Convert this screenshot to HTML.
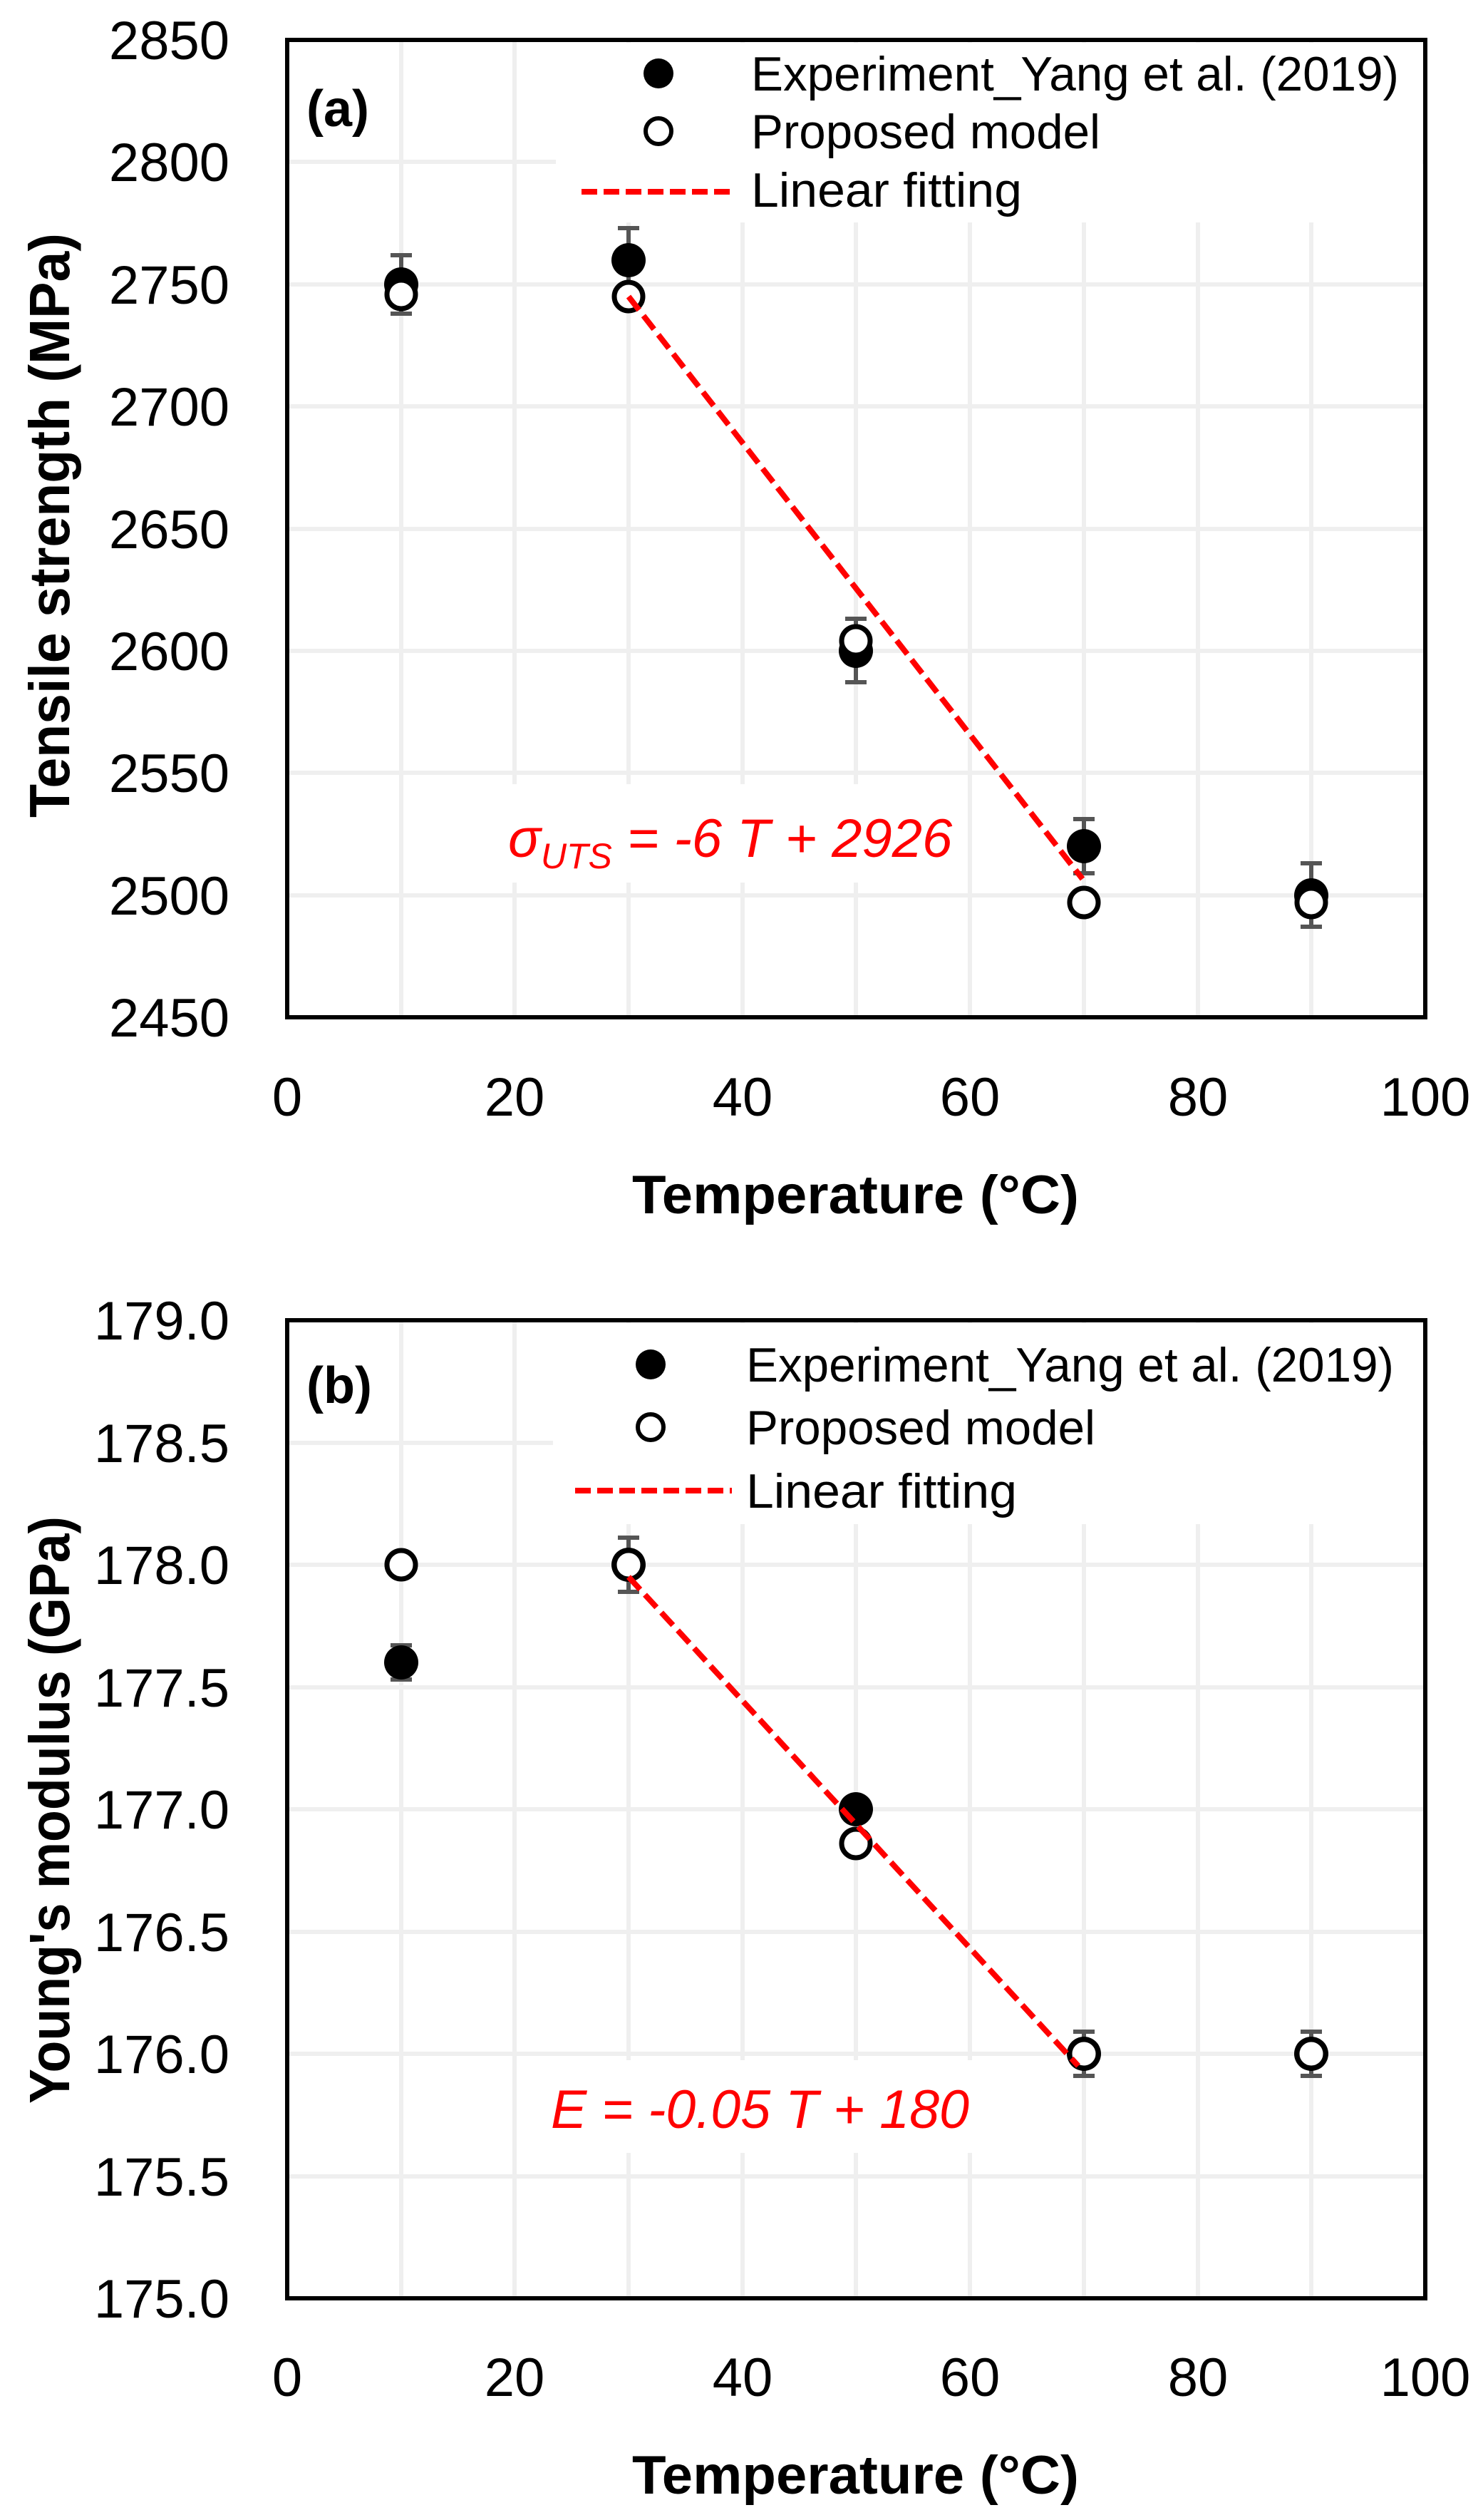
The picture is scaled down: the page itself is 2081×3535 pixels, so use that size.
<!DOCTYPE html>
<html><head><meta charset="utf-8"><style>html,body{margin:0;padding:0;background:#fff}svg{display:block}</style></head>
<body>
<svg xmlns="http://www.w3.org/2000/svg" width="2081" height="3535" viewBox="0 0 2081 3535" font-family="'Liberation Sans', sans-serif">
<rect width="2081" height="3535" fill="#fff"/>
<!-- ===== PANEL A ===== -->
<g>
<g stroke="#efefef" stroke-width="6">
<line x1="722" y1="56" x2="722" y2="1427"/><line x1="1042" y1="56" x2="1042" y2="1427"/><line x1="1361" y1="56" x2="1361" y2="1427"/><line x1="1681" y1="56" x2="1681" y2="1427"/>
<line x1="563" y1="56" x2="563" y2="1427"/><line x1="882" y1="56" x2="882" y2="1427"/><line x1="1201" y1="56" x2="1201" y2="1427"/><line x1="1521" y1="56" x2="1521" y2="1427"/><line x1="1840" y1="56" x2="1840" y2="1427"/>
<line x1="403" y1="227" x2="2000" y2="227"/><line x1="403" y1="399" x2="2000" y2="399"/><line x1="403" y1="570" x2="2000" y2="570"/><line x1="403" y1="742" x2="2000" y2="742"/><line x1="403" y1="913" x2="2000" y2="913"/><line x1="403" y1="1084" x2="2000" y2="1084"/><line x1="403" y1="1256" x2="2000" y2="1256"/>
</g>
<rect x="780" y="60" width="1216" height="252" fill="#fff"/>
<rect x="690" y="1100" width="655" height="138" fill="#fff"/>
<rect x="403" y="56" width="1597" height="1371" fill="none" stroke="#000" stroke-width="6"/>
<g font-size="76" text-anchor="end" fill="#000">
<text x="322" y="83">2850</text><text x="322" y="254">2800</text><text x="322" y="426">2750</text><text x="322" y="597">2700</text><text x="322" y="769">2650</text><text x="322" y="940">2600</text><text x="322" y="1111">2550</text><text x="322" y="1283">2500</text><text x="322" y="1454">2450</text>
</g>
<g font-size="76" text-anchor="middle" fill="#000">
<text x="403" y="1565">0</text><text x="722" y="1565">20</text><text x="1042" y="1565">40</text><text x="1361" y="1565">60</text><text x="1681" y="1565">80</text><text x="2000" y="1565">100</text>
</g>
<text x="887" y="1702" font-size="76" font-weight="bold" textLength="627" lengthAdjust="spacingAndGlyphs">Temperature (°C)</text>
<text transform="translate(97,1147) rotate(-90)" font-size="80" font-weight="bold" textLength="820" lengthAdjust="spacingAndGlyphs">Tensile strength (MPa)</text>
<text x="430" y="177" font-size="72" font-weight="bold">(a)</text>
<!-- legend -->
<circle cx="924" cy="103" r="21" fill="#000"/>
<circle cx="924" cy="184" r="18" fill="#fff" stroke="#000" stroke-width="6"/>
<line x1="816" y1="269" x2="1033" y2="269" stroke="#f00" stroke-width="8" stroke-dasharray="22 9"/>
<g font-size="68" fill="#000">
<text x="1054" y="127" textLength="909" lengthAdjust="spacingAndGlyphs">Experiment_Yang et al. (2019)</text>
<text x="1054" y="208" textLength="490" lengthAdjust="spacingAndGlyphs">Proposed model</text>
<text x="1054" y="290" textLength="380" lengthAdjust="spacingAndGlyphs">Linear fitting</text>
</g>
<!-- error bars -->
<g stroke="#555" stroke-width="6">
<line x1="563" y1="440" x2="563" y2="358"/><line x1="548" y1="440" x2="578" y2="440"/><line x1="548" y1="358" x2="578" y2="358"/>
<line x1="882" y1="406" x2="882" y2="320"/><line x1="867" y1="406" x2="897" y2="406"/><line x1="867" y1="320" x2="897" y2="320"/>
<line x1="1201" y1="957" x2="1201" y2="868"/><line x1="1186" y1="957" x2="1216" y2="957"/><line x1="1186" y1="868" x2="1216" y2="868"/>
<line x1="1521" y1="1225" x2="1521" y2="1149"/><line x1="1506" y1="1225" x2="1536" y2="1225"/><line x1="1506" y1="1149" x2="1536" y2="1149"/>
<line x1="1840" y1="1300" x2="1840" y2="1211"/><line x1="1825" y1="1300" x2="1855" y2="1300"/><line x1="1825" y1="1211" x2="1855" y2="1211"/>
</g>
<g fill="#000">
<circle cx="563" cy="399" r="24"/><circle cx="882" cy="365" r="24"/><circle cx="1201" cy="913" r="24"/><circle cx="1521" cy="1187" r="24"/><circle cx="1840" cy="1256" r="24"/>
</g>
<g fill="#fff" stroke="#000" stroke-width="7">
<circle cx="563" cy="413" r="20"/><circle cx="882" cy="416" r="20"/><circle cx="1201" cy="899" r="20"/><circle cx="1521" cy="1266" r="20"/><circle cx="1840" cy="1266" r="20"/>
</g>
<line x1="882" y1="416" x2="1519" y2="1233" stroke="#f00" stroke-width="8" stroke-dasharray="24 10"/>
<text x="713" y="1202" font-size="76" font-style="italic" fill="#f00">σ<tspan font-size="50" dy="16">UTS</tspan><tspan dy="-16"> = -6 T + 2926</tspan></text>
</g>
<!-- ===== PANEL B ===== -->
<g>
<g stroke="#efefef" stroke-width="6">
<line x1="722" y1="1852" x2="722" y2="3224"/><line x1="1042" y1="1852" x2="1042" y2="3224"/><line x1="1361" y1="1852" x2="1361" y2="3224"/><line x1="1681" y1="1852" x2="1681" y2="3224"/>
<line x1="563" y1="1852" x2="563" y2="3224"/><line x1="882" y1="1852" x2="882" y2="3224"/><line x1="1201" y1="1852" x2="1201" y2="3224"/><line x1="1521" y1="1852" x2="1521" y2="3224"/><line x1="1840" y1="1852" x2="1840" y2="3224"/>
<line x1="403" y1="2024" x2="2000" y2="2024"/><line x1="403" y1="2195" x2="2000" y2="2195"/><line x1="403" y1="2367" x2="2000" y2="2367"/><line x1="403" y1="2538" x2="2000" y2="2538"/><line x1="403" y1="2710" x2="2000" y2="2710"/><line x1="403" y1="2881" x2="2000" y2="2881"/><line x1="403" y1="3053" x2="2000" y2="3053"/>
</g>
<rect x="776" y="1856" width="1220" height="282" fill="#fff"/>
<rect x="750" y="2890" width="635" height="130" fill="#fff"/>
<rect x="403" y="1852" width="1597" height="1372" fill="none" stroke="#000" stroke-width="6"/>
<g font-size="76" text-anchor="end" fill="#000">
<text x="322" y="1879">179.0</text><text x="322" y="2051">178.5</text><text x="322" y="2222">178.0</text><text x="322" y="2394">177.5</text><text x="322" y="2565">177.0</text><text x="322" y="2737">176.5</text><text x="322" y="2908">176.0</text><text x="322" y="3080">175.5</text><text x="322" y="3251">175.0</text>
</g>
<g font-size="76" text-anchor="middle" fill="#000">
<text x="403" y="3361">0</text><text x="722" y="3361">20</text><text x="1042" y="3361">40</text><text x="1361" y="3361">60</text><text x="1681" y="3361">80</text><text x="2000" y="3361">100</text>
</g>
<text x="887" y="3498" font-size="76" font-weight="bold" textLength="627" lengthAdjust="spacingAndGlyphs">Temperature (°C)</text>
<text transform="translate(97,2951) rotate(-90)" font-size="80" font-weight="bold" textLength="824" lengthAdjust="spacingAndGlyphs">Young's modulus (GPa)</text>
<text x="430" y="1968" font-size="72" font-weight="bold">(b)</text>
<circle cx="913" cy="1914" r="21" fill="#000"/>
<circle cx="913" cy="2002" r="18" fill="#fff" stroke="#000" stroke-width="6"/>
<line x1="807" y1="2091" x2="1027" y2="2091" stroke="#f00" stroke-width="8" stroke-dasharray="22 9"/>
<g font-size="68" fill="#000">
<text x="1047" y="1938" textLength="909" lengthAdjust="spacingAndGlyphs">Experiment_Yang et al. (2019)</text>
<text x="1047" y="2026" textLength="490" lengthAdjust="spacingAndGlyphs">Proposed model</text>
<text x="1047" y="2115" textLength="380" lengthAdjust="spacingAndGlyphs">Linear fitting</text>
</g>
<g stroke="#555" stroke-width="6">
<line x1="563" y1="2356" x2="563" y2="2308"/><line x1="548" y1="2356" x2="578" y2="2356"/><line x1="548" y1="2308" x2="578" y2="2308"/>
<line x1="882" y1="2233" x2="882" y2="2157"/><line x1="867" y1="2233" x2="897" y2="2233"/><line x1="867" y1="2157" x2="897" y2="2157"/>
<line x1="1521" y1="2912" x2="1521" y2="2850"/><line x1="1506" y1="2912" x2="1536" y2="2912"/><line x1="1506" y1="2850" x2="1536" y2="2850"/>
<line x1="1840" y1="2912" x2="1840" y2="2850"/><line x1="1825" y1="2912" x2="1855" y2="2912"/><line x1="1825" y1="2850" x2="1855" y2="2850"/>
</g>
<g fill="#000">
<circle cx="563" cy="2332" r="24"/><circle cx="1201" cy="2538" r="24"/><circle cx="882" cy="2195" r="24"/><circle cx="1521" cy="2881" r="24"/><circle cx="1840" cy="2881" r="24"/>
</g>
<g fill="#fff" stroke="#000" stroke-width="7">
<circle cx="563" cy="2195" r="20"/><circle cx="882" cy="2195" r="20"/><circle cx="1201" cy="2586" r="20"/><circle cx="1521" cy="2881" r="20"/><circle cx="1840" cy="2881" r="20"/>
</g>
<line x1="882" y1="2212" x2="1513" y2="2898" stroke="#f00" stroke-width="8" stroke-dasharray="24 10"/>
<text x="773" y="2985" font-size="76" font-style="italic" fill="#f00" textLength="587" lengthAdjust="spacingAndGlyphs">E = -0.05 T + 180</text>
</g>
</svg>
</body></html>
